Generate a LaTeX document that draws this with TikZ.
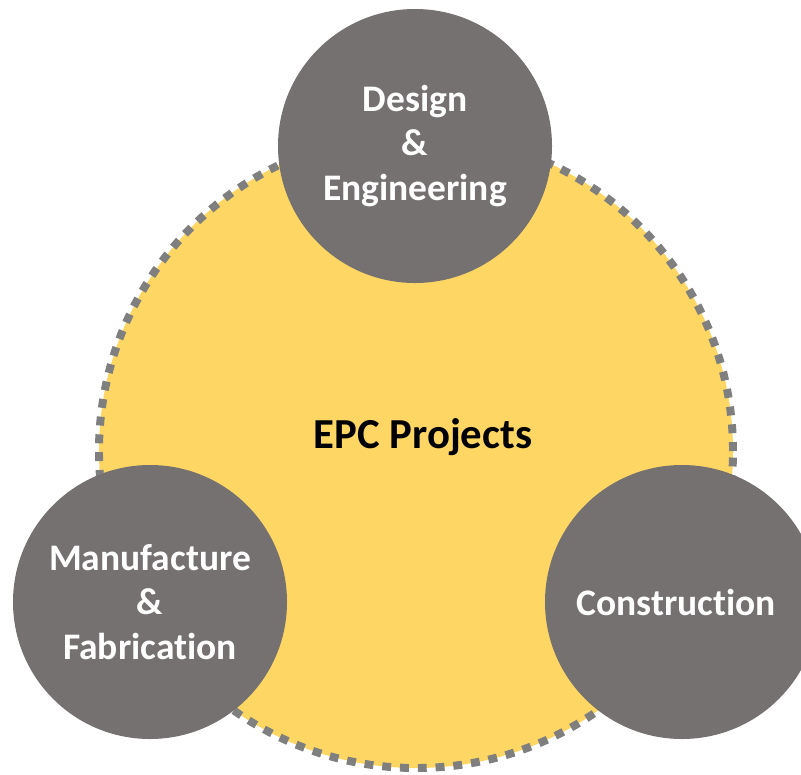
\documentclass[tikz,border=0pt]{standalone}
\usepackage{fontspec}
\setmainfont[Ligatures=NoCommon]{Carlito}
\definecolor{epcyellow}{HTML}{FDD663}
\definecolor{epcgrey}{HTML}{767171}
\definecolor{epcdash}{HTML}{7F7F7F}
\tikzset{
  phase/.style={circle, fill=epcgrey, inner sep=0, minimum size=8.22cm, text=white,
    align=center, font=\bfseries\fontsize{32}{38}\selectfont},
}
\begin{document}
\begin{tikzpicture}[x=0.03cm, y=-0.03cm]
\useasboundingbox (0,0) rectangle (801,775);
\node[circle, inner sep=0, minimum size=19.02cm, fill=epcyellow, draw=epcdash, line width=6.8pt, dash pattern=on 7.6pt off 7.6pt] (epc) at (416,451){};
\node[font=\bfseries\fontsize{36.5}{42}\selectfont] (epclabel) at (423,437){EPC Projects};
\node[phase] (design) at (415,146){Design\\\&\\Engineering};
\node[phase] (manuf) at (150,602){Manufacture\\\&\\Fabrication};
\node[phase] (constr) at (682,602){\hspace*{-0.36cm}Construction};
\end{tikzpicture}
\end{document}
